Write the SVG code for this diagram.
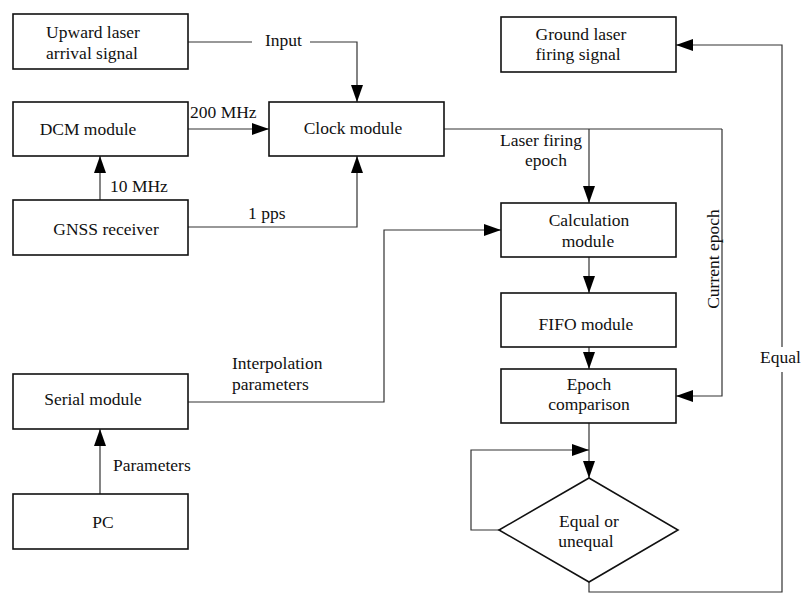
<svg xmlns="http://www.w3.org/2000/svg" width="802" height="593" viewBox="0 0 802 593" font-family="Liberation Serif, 'Times New Roman', serif" font-size="17.5">
<style>
.box{fill:#fff;stroke:#111;stroke-width:1.6}
.ln{fill:none;stroke:#333;stroke-width:1.2}
.m{text-anchor:middle}
</style>
<defs>
<marker id="ah" markerUnits="userSpaceOnUse" markerWidth="18" markerHeight="13" refX="17" refY="6" orient="auto">
<path d="M0,0 L17,6 L0,12 z" fill="#000"/>
</marker>
</defs>
<rect width="802" height="593" fill="#fff"/>
<g id="connectors" fill="#111">
<path class="ln" d="M188,42 H252 M310,42 H357 V102" marker-end="url(#ah)"/>
<path class="ln" d="M188,129 H269" marker-end="url(#ah)"/>
<path class="ln" d="M100,200 V156" marker-end="url(#ah)"/>
<path class="ln" d="M188,227 H357 V156" marker-end="url(#ah)"/>
<path class="ln" d="M444,129 H722"/>
<path class="ln" d="M589,129 V203" marker-end="url(#ah)"/>
<path class="ln" d="M722,129 V396 H676" marker-end="url(#ah)"/>
<path class="ln" d="M188,402 H384 V230 H501" marker-end="url(#ah)"/>
<path class="ln" d="M589,257 V293" marker-end="url(#ah)"/>
<path class="ln" d="M589,347 V369" marker-end="url(#ah)"/>
<path class="ln" d="M589,423 V478" marker-end="url(#ah)"/>
<path class="ln" d="M499,530 H471 V450 H589" marker-end="url(#ah)"/>
<path class="ln" d="M100,494 V429" marker-end="url(#ah)"/>
<path class="ln" d="M589,582 V592 H782 V372 M782,347 V45 H676" marker-end="url(#ah)"/>
<text x="265" y="46">Input</text>
<text x="190" y="118">200 MHz</text>
<text x="110" y="192">10 MHz</text>
<text x="248" y="219">1 pps</text>
<text class="m" x="541" y="146">Laser firing</text>
<text class="m" x="546" y="166">epoch</text>
<text class="m" transform="translate(719,259) rotate(-90)">Current epoch</text>
<text x="760" y="363">Equal</text>
<text x="232" y="369">Interpolation</text>
<text x="232" y="390">parameters</text>
<text x="113" y="471">Parameters</text>
</g>
<g id="upward" fill="#111"><rect class="box" x="13" y="14" width="175" height="55"/><text class="m" x="93" y="38">Upward laser</text><text class="m" x="92" y="59">arrival signal</text></g>
<g id="dcm" fill="#111"><rect class="box" x="13" y="102" width="175" height="54"/><text class="m" x="88" y="135">DCM module</text></g>
<g id="gnss" fill="#111"><rect class="box" x="13" y="200" width="175" height="55"/><text class="m" x="106" y="235">GNSS receiver</text></g>
<g id="serial" fill="#111"><rect class="box" x="13" y="374" width="175" height="55"/><text class="m" x="93" y="405">Serial module</text></g>
<g id="pc" fill="#111"><rect class="box" x="13" y="494" width="175" height="55"/><text class="m" x="103" y="528">PC</text></g>
<g id="clock" fill="#111"><rect class="box" x="269" y="102" width="175" height="54"/><text class="m" x="353" y="134">Clock module</text></g>
<g id="ground" fill="#111"><rect class="box" x="501" y="17" width="175" height="55"/><text class="m" x="581" y="40">Ground laser</text><text class="m" x="578" y="60">firing signal</text></g>
<g id="calc" fill="#111"><rect class="box" x="501" y="203" width="175" height="54"/><text class="m" x="589" y="226">Calculation</text><text class="m" x="588" y="247">module</text></g>
<g id="fifo" fill="#111"><rect class="box" x="501" y="293" width="175" height="54"/><text class="m" x="586" y="330">FIFO module</text></g>
<g id="epoch" fill="#111"><rect class="box" x="501" y="369" width="175" height="54"/><text class="m" x="589" y="390">Epoch</text><text class="m" x="589" y="410">comparison</text></g>
<g id="decision" fill="#111"><polygon class="box" points="589,478 678,530 589,582 499,530"/><text class="m" x="589" y="527">Equal or</text><text class="m" x="586" y="547">unequal</text></g>
</svg>
